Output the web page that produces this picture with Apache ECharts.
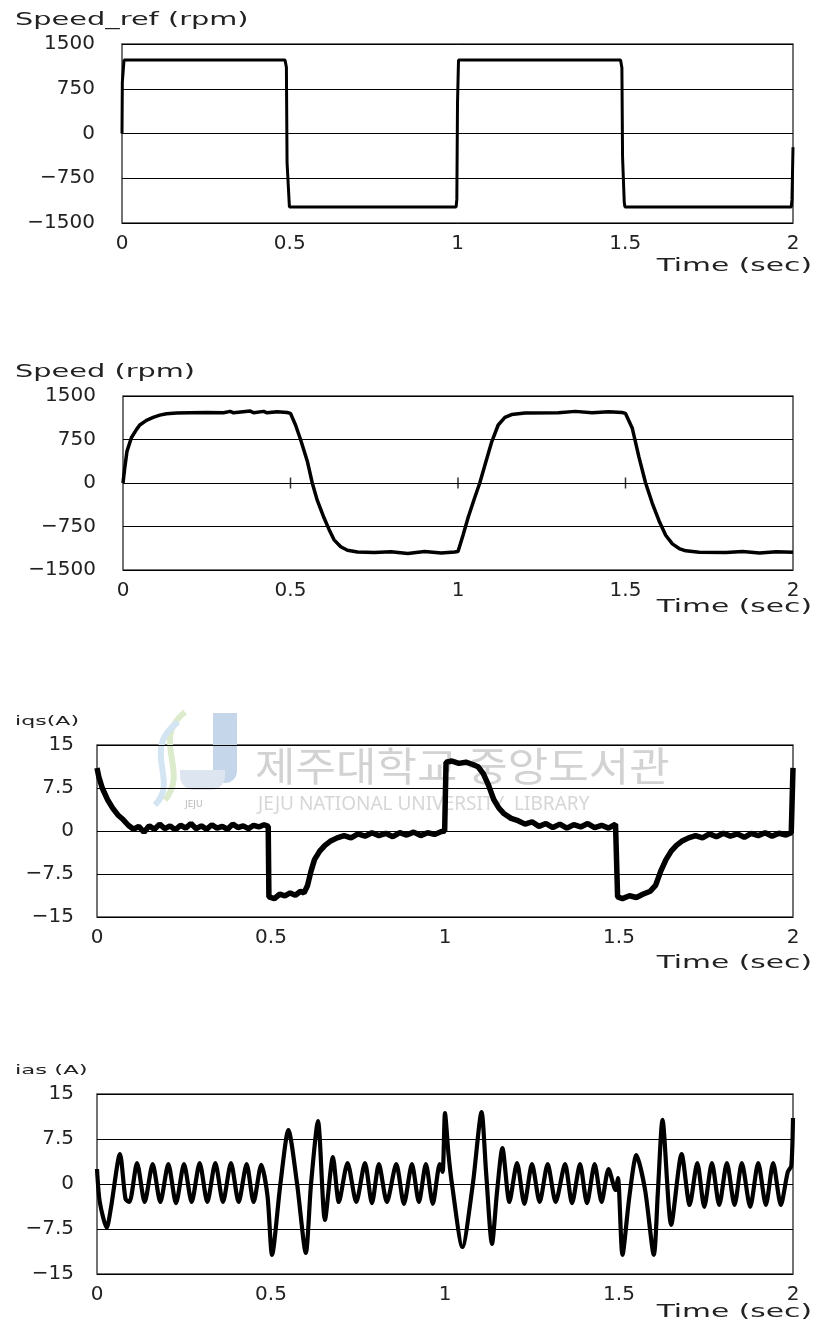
<!DOCTYPE html>
<html>
<head>
<meta charset="utf-8">
<script src="https://cdn.jsdelivr.net/npm/echarts@6/dist/echarts.min.js"></script>
<style>
html,body{margin:0;padding:0;background:#fff;}
#chart{width:819px;height:1325px;}
</style>
</head>
<body>
<div id="chart"></div>
<script>
// ---------- DATA ----------
const xTicks = [0, 0.5, 1, 1.5, 2];
const speedTicks = [-1500, -750, 0, 750, 1500];
const currentTicks = [-15, -7.5, 0, 7.5, 15];

// Speed_ref (rpm)
const refT = [0, 0.001, 0.004, 0.006, 0.486, 0.490, 0.492, 0.497, 0.499, 0.996, 0.998, 1.000, 1.003, 1.486, 1.490, 1.492, 1.497, 1.499, 1.995, 1.997, 2.000];
const refV = [0, 860, 860, 1230, 1230, 1110, -490, -490, -1230, -1230, -1100, 500, 1230, 1230, 1100, -400, -1150, -1230, -1230, -1100, -230];

// Speed (rpm)
const spdT = [0, 0.005, 0.012, 0.025, 0.04, 0.05, 0.07, 0.09, 0.11, 0.13, 0.16, 0.2, 0.25, 0.3, 0.32, 0.33, 0.38, 0.39, 0.42, 0.43, 0.46, 0.49, 0.5,
  0.515, 0.53, 0.55, 0.565, 0.58, 0.6, 0.615, 0.63, 0.65, 0.67, 0.7, 0.75, 0.8, 0.85, 0.9, 0.95, 0.99, 1.0,
  1.015, 1.03, 1.05, 1.065, 1.08, 1.1, 1.12, 1.14, 1.16, 1.2, 1.3, 1.35, 1.4, 1.45, 1.49, 1.5,
  1.52, 1.54, 1.56, 1.58, 1.6, 1.62, 1.64, 1.66, 1.68, 1.72, 1.8, 1.85, 1.9, 1.95, 2.0];
const spdV = [0, 250, 550, 780, 920, 1000, 1080, 1130, 1170, 1195, 1205, 1210, 1215, 1210, 1235, 1210, 1240, 1210, 1235, 1210, 1230, 1215, 1200,
  1000, 750, 380, 0, -300, -600, -800, -980, -1100, -1160, -1190, -1200, -1185, -1215, -1180, -1205, -1190, -1180,
  -900, -600, -250, 0, 300, 700, 1000, 1130, 1180, 1205, 1210, 1235, 1210, 1230, 1215, 1200,
  950, 450, 0, -350, -650, -900, -1050, -1130, -1170, -1195, -1200, -1180, -1205, -1185, -1195];
const spdMarkT = [0.5, 1, 1.5];
const spdMarkV = [0, 0, 0];

// iqs (A)
const iqsT = [0, 0.005, 0.015, 0.03, 0.045, 0.06, 0.075, 0.09, 0.105, 0.12, 0.135, 0.15, 0.165, 0.18, 0.195, 0.21, 0.225, 0.24, 0.255, 0.27, 0.285, 0.3, 0.315, 0.33, 0.345, 0.36, 0.375, 0.39, 0.405, 0.42, 0.435, 0.45, 0.465, 0.48, 0.492,
  0.494, 0.51, 0.525, 0.54, 0.555, 0.57, 0.585, 0.595, 0.605, 0.615, 0.625, 0.64, 0.655, 0.67, 0.69, 0.71, 0.73, 0.75, 0.77, 0.79, 0.81, 0.83, 0.85, 0.87, 0.89, 0.91, 0.93, 0.95, 0.97, 0.99, 0.999,
  1.003, 1.02, 1.04, 1.06, 1.08, 1.095, 1.11, 1.125, 1.14, 1.155, 1.17, 1.19, 1.21, 1.23, 1.25, 1.27, 1.29, 1.31, 1.33, 1.35, 1.37, 1.39, 1.41, 1.43, 1.45, 1.47, 1.49, 1.494,
  1.496, 1.51, 1.53, 1.55, 1.57, 1.59, 1.605, 1.62, 1.635, 1.65, 1.665, 1.68, 1.70, 1.72, 1.74, 1.76, 1.78, 1.80, 1.82, 1.84, 1.86, 1.88, 1.90, 1.92, 1.94, 1.96, 1.98, 1.995, 2.0];
const iqsV = [11, 9.5, 7.5, 5.5, 4, 2.8, 2, 1, 0.3, 0.8, -0.2, 0.9, 0.3, 1.2, 0.4, 0.9, 0.2, 1, 0.5, 1.3, 0.4, 0.9, 0.3, 1.1, 0.5, 0.8, 0.3, 1.2, 0.6, 0.9, 0.4, 1, 0.7, 1.1, 0.8,
  -11.5, -11.8, -11, -11.3, -10.8, -11.2, -10.5, -10.8, -9.5, -7, -5, -3.5, -2.5, -1.8, -1.2, -0.8, -1.2, -0.5, -0.9, -0.3, -0.8, -0.4, -1, -0.3, -0.7, -0.2, -0.8, -0.3, -0.6, -0.1, 0,
  12, 12.2, 11.8, 12, 11.6, 11.2, 10, 8, 5.5, 4, 3, 2.2, 1.8, 1.2, 1.6, 0.8, 1.3, 0.6, 1.2, 0.5, 1.1, 0.7, 1.3, 0.6, 1, 0.5, 1.2, 1,
  -11.5, -11.8, -11.3, -11.6, -11, -10.5, -9.5, -7, -5, -3.5, -2.5, -1.8, -1.2, -0.8, -1.2, -0.5, -1, -0.4, -0.9, -0.5, -1.1, -0.4, -0.8, -0.3, -0.9, -0.4, -0.7, -0.3, 11];

// ias (A)
const iasT = [0, 0.008, 0.028, 0.040, 0.066, 0.082, 0.093, 0.115, 0.137, 0.160, 0.182, 0.205, 0.227, 0.250, 0.272, 0.295, 0.317, 0.340, 0.362, 0.385, 0.407, 0.430, 0.450, 0.472, 0.490,
  0.503, 0.527, 0.550, 0.575, 0.600, 0.615, 0.635, 0.655, 0.678, 0.695, 0.720, 0.745, 0.770, 0.790, 0.810, 0.833, 0.860, 0.882, 0.905, 0.925, 0.945, 0.965, 0.985, 0.993,
  1.000, 1.010, 1.020, 1.050, 1.080, 1.105, 1.118, 1.135, 1.150, 1.165, 1.185, 1.207, 1.228, 1.250, 1.272, 1.295, 1.318, 1.345, 1.365, 1.388, 1.408, 1.430, 1.450, 1.470, 1.490, 1.497,
  1.510, 1.530, 1.550, 1.575, 1.600, 1.612, 1.625, 1.650, 1.680, 1.703, 1.725, 1.745, 1.767, 1.788, 1.810, 1.832, 1.853, 1.877, 1.900, 1.922, 1.943, 1.965, 1.985, 1.995, 2.000];
const iasV = [2.5, -3, -7.3, -4, 5, -2.5, -3, 3.5, -3, 3.3, -3, 3.3, -3.2, 3.3, -3, 3.5, -3, 3.5, -3, 3.5, -3, 3.3, -3, 3.2, -2,
  -11.8, 0, 9, 0, -11.5, 0, 10.5, -6, 4.5, -3, 3.5, -3, 3.5, -3.2, 3.3, -3, 3.3, -3.3, 3.3, -3, 3.3, -3.3, 3.3, 2,
  11.8, 5, 0, -10.5, 0, 12, 2, -10, -1, 6, -3, 3.5, -3.3, 3.3, -3, 3.3, -3, 3.3, -3.2, 3.3, -3.2, 3.3, -3, 2.5, -1, 1,
  -11.8, -2, 4.8, -1, -11.8, -1, 10.7, -6.8, 5, -3.5, 3.5, -3.8, 3.5, -3.5, 3.5, -3.5, 3.5, -3.8, 3.5, -3.5, 3.5, -3.5, 2, 3, 11];

// ---------- CHART ----------
const zip = (t, v) => t.map((x, i) => [x, v[i]]);
const FONT = 'DejaVu Sans';
const minus = v => String(v).replace('-', '\u2212');

const grids = [
  {left: 122, right: 26, top: 44, height: 179},
  {left: 123, right: 26, top: 396, height: 174},
  {left: 97, right: 26, top: 745, height: 172},
  {left: 97, right: 26, top: 1094, height: 180}
];
const yRanges = [
  {min: speedTicks[0], max: speedTicks[4], interval: speedTicks[1] - speedTicks[0], margin: 27},
  {min: speedTicks[0], max: speedTicks[4], interval: speedTicks[1] - speedTicks[0], margin: 27},
  {min: currentTicks[0], max: currentTicks[4], interval: currentTicks[1] - currentTicks[0], margin: 23},
  {min: currentTicks[0], max: currentTicks[4], interval: currentTicks[1] - currentTicks[0], margin: 23}
];

const option = {
  animation: false,
  backgroundColor: '#fff',
  grid: grids.map(g => Object.assign({show: true, borderColor: '#444', borderWidth: 1.5, backgroundColor: 'transparent'}, g)),
  xAxis: grids.map((g, i) => ({
    type: 'value', gridIndex: i, min: xTicks[0], max: xTicks[4], interval: xTicks[1] - xTicks[0],
    axisLine: {show: false, onZero: false}, axisTick: {show: false}, splitLine: {show: false},
    axisLabel: {fontFamily: FONT, fontSize: 20, color: '#222', margin: 11, formatter: v => String(v)}
  })),
  yAxis: yRanges.map((r, i) => ({
    type: 'value', gridIndex: i, min: r.min, max: r.max, interval: r.interval,
    axisLine: {show: false}, axisTick: {show: false},
    splitLine: {show: true, lineStyle: {color: '#000', width: 1}},
    axisLabel: {fontFamily: FONT, fontSize: 20, color: '#222', margin: r.margin, formatter: minus}
  })),
  series: [
    {type: 'line', xAxisIndex: 0, yAxisIndex: 0, data: zip(refT, refV), showSymbol: false, lineStyle: {color: '#000', width: 3}, z: 5},
    {type: 'line', xAxisIndex: 1, yAxisIndex: 1, data: zip(spdT, spdV), showSymbol: false, lineStyle: {color: '#000', width: 3.5}, z: 5},
    {type: 'scatter', xAxisIndex: 1, yAxisIndex: 1, data: zip(spdMarkT, spdMarkV), symbol: 'rect', symbolSize: [1.5, 11], itemStyle: {color: '#000'}, z: 5},
    {type: 'line', xAxisIndex: 2, yAxisIndex: 2, data: zip(iqsT, iqsV), showSymbol: false, lineStyle: {color: '#000', width: 5.5}, z: 5},
    {type: 'line', xAxisIndex: 3, yAxisIndex: 3, data: zip(iasT, iasV), showSymbol: false, smooth: 0.25, lineStyle: {color: '#000', width: 4.2}, z: 5}
  ],
  graphic: [
    // titles
    {type: 'text', x: 15, y: 20, scaleX: 1.6, style: {text: 'Speed_ref (rpm)', fontFamily: FONT, fontSize: 18, fill: '#222', textVerticalAlign: 'middle'}},
    {type: 'text', x: 15, y: 372, scaleX: 1.6, style: {text: 'Speed (rpm)', fontFamily: FONT, fontSize: 18, fill: '#222', textVerticalAlign: 'middle'}},
    {type: 'text', x: 15, y: 722, scaleX: 1.7, style: {text: 'iqs(A)', fontFamily: FONT, fontSize: 13, fill: '#222', textVerticalAlign: 'middle'}},
    {type: 'text', x: 15, y: 1071, scaleX: 1.75, style: {text: 'ias (A)', fontFamily: FONT, fontSize: 13, fill: '#222', textVerticalAlign: 'middle'}},
    // axis names
    {type: 'text', x: 812, y: 266, scaleX: 1.65, style: {text: 'Time (sec)', fontFamily: FONT, fontSize: 18, fill: '#222', textAlign: 'right', textVerticalAlign: 'middle'}},
    {type: 'text', x: 812, y: 607, scaleX: 1.65, style: {text: 'Time (sec)', fontFamily: FONT, fontSize: 18, fill: '#222', textAlign: 'right', textVerticalAlign: 'middle'}},
    {type: 'text', x: 812, y: 963, scaleX: 1.65, style: {text: 'Time (sec)', fontFamily: FONT, fontSize: 18, fill: '#222', textAlign: 'right', textVerticalAlign: 'middle'}},
    {type: 'text', x: 812, y: 1312, scaleX: 1.65, style: {text: 'Time (sec)', fontFamily: FONT, fontSize: 18, fill: '#222', textAlign: 'right', textVerticalAlign: 'middle'}},
    // library watermark
    {type: 'bezierCurve', z: 0, shape: {x1: 185, y1: 712, cpx1: 150, cpy1: 740, cpx2: 190, cpy2: 770, x2: 165, y2: 800}, style: {stroke: '#dcebcc', lineWidth: 6, fill: null}},
    {type: 'bezierCurve', z: 0, shape: {x1: 178, y1: 722, cpx1: 140, cpy1: 750, cpx2: 180, cpy2: 780, x2: 155, y2: 805}, style: {stroke: '#d3e4f2', lineWidth: 6, fill: null}},
    {type: 'rect', z: 0, shape: {x: 213, y: 713, width: 24, height: 70, r: [0, 0, 12, 12]}, style: {fill: '#c6d6ea'}},
    {type: 'rect', z: 0, shape: {x: 180, y: 770, width: 45, height: 20, r: [0, 0, 14, 14]}, style: {fill: '#dde5f0'}},
    {type: 'text', z: 0, x: 185, y: 800, style: {text: 'JEJU', fontFamily: FONT, fontSize: 9, fill: '#b8b8b8'}},
    {type: 'text', z: 0, x: 255, y: 766, scaleX: 1.1, style: {text: '제주대학교 중앙도서관', fontFamily: 'Noto Sans CJK KR', fontSize: 40, fill: '#d2d2d2', textVerticalAlign: 'middle'}},
    {type: 'text', z: 0, x: 258, y: 805, style: {text: 'JEJU NATIONAL UNIVERSITY  LIBRARY', fontFamily: 'Noto Sans', fontSize: 19, fill: '#d6d6d6', textVerticalAlign: 'middle'}}
  ]
};

const chart = echarts.init(document.getElementById('chart'), null, {renderer: 'canvas'});
chart.setOption(option);
</script>
</body>
</html>
